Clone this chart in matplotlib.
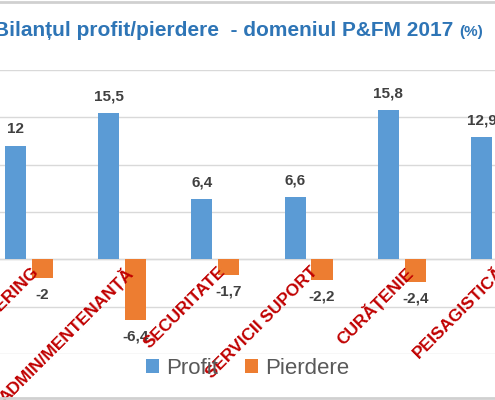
import matplotlib
matplotlib.use("Agg")
import matplotlib.pyplot as plt
import numpy as np

categories = ["CATERING", "ADMIN/MENTENANȚĂ", "SECURITATE", "SERVICII SUPORT", "CURĂȚENIE", "PEISAGISTICĂ"]
profit = [12, 15.5, 6.4, 6.6, 15.8, 12.9]
pierdere = [-2, -6.4, -1.7, -2.2, -2.4, -1.5]
profit_labels = ["12", "15,5", "6,4", "6,6", "15,8", "12,9"]
pierdere_labels = ["-2", "-6,4", "-1,7", "-2,2", "-2,4", "-1,5"]

plt.rcParams['font.family'] = ['Liberation Sans', 'DejaVu Sans']
fig = plt.figure(figsize=(4.95, 4.0), dpi=100)
ax = fig.add_axes([0, 0.115, 1, 0.71])
x = np.arange(len(categories))
w = 0.227; off = 0.144
blue = '#5B9BD5'; orange = '#ED7D31'
ax.bar(x - off, profit, w, color=blue, label='Profit', zorder=3)
ax.bar(x + off, pierdere, w, color=orange, label='Pierdere', zorder=3)
for xi, v, t in zip(x, profit, profit_labels):
    ax.text(xi - off, v + 1.0, t, ha='center', va='bottom', fontsize=11, fontweight='bold', color='#404040')
for xi, v, t in zip(x, pierdere, pierdere_labels):
    ax.text(xi + off, v - 1.0, t, ha='center', va='top', fontsize=11, fontweight='bold', color='#404040')
ax.set_xlim(-0.309, 4.794)
ax.set_ylim(-10, 20)
ax.set_yticks(np.arange(-10, 21, 5))
ax.yaxis.grid(True, color='#D9D9D9', lw=1, zorder=0)
ax.tick_params(left=False, labelleft=False, bottom=False)
for s in ax.spines.values():
    s.set_visible(False)
ax.axhline(0, color='#D9D9D9', lw=1, zorder=1)
ax.set_xticks(x)
ax.set_xticklabels([])
for xi, c in zip(x, categories):
    ax.text(xi + 0.02, -0.5, c, rotation=45, ha='right', va='top', rotation_mode='anchor',
            fontsize=12.5, fontweight='bold', color='#C00000')
t1 = fig.text(-0.012, 0.925, "Bilanțul profit/pierdere  - domeniul P&FM 2017 ", fontsize=15,
              fontweight='bold', color='#2E75B6', ha='left', va='baseline')
fig.canvas.draw()
bb = t1.get_window_extent()
fig.text(bb.x1 / fig.bbox.width, 0.925, "(%)", fontsize=11, fontweight='bold', color='#2E75B6',
         ha='left', va='baseline')
t1.set_y(0.91)
fig.texts[-1].set_y(0.91)
leg = fig.legend(loc='center', bbox_to_anchor=(0.5, 0.08), ncol=2, frameon=False,
                 fontsize=16, handlelength=0.6, handleheight=0.6, columnspacing=1.2, handletextpad=0.3)
for t in leg.get_texts():
    t.set_color('#595959')
fig.add_artist(plt.Line2D([0, 1], [0.995, 0.995], color='#D0D0D0', lw=2))
fig.add_artist(plt.Line2D([0, 1], [0.005, 0.005], color='#D0D0D0', lw=2))
fig.savefig("out.png", dpi=100)
